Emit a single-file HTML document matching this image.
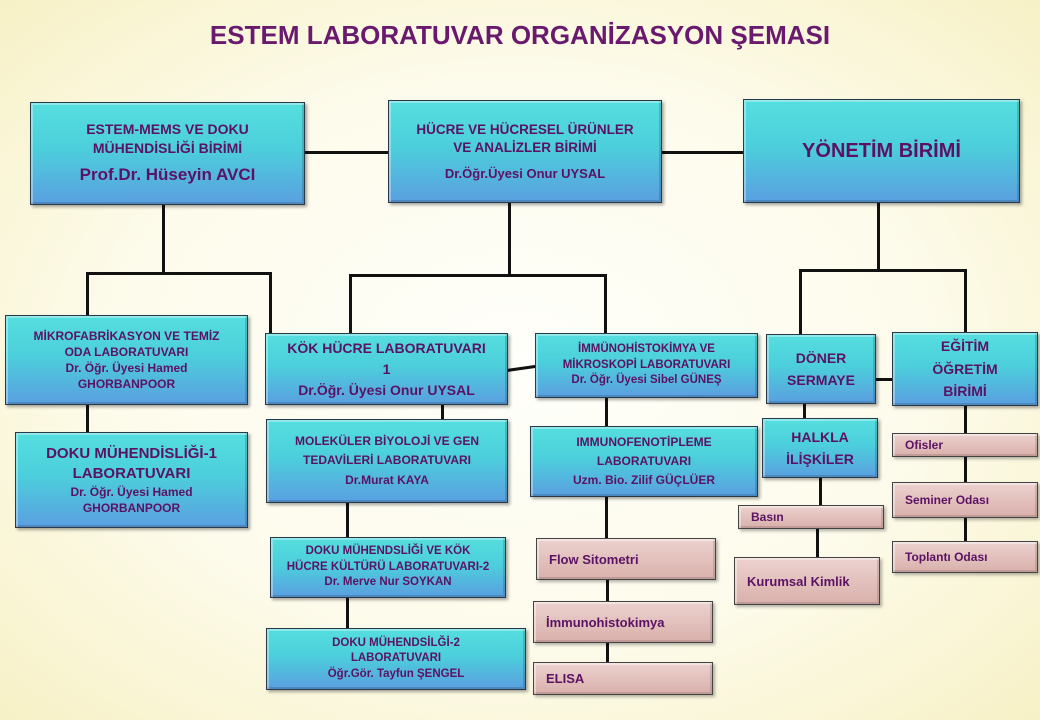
<!DOCTYPE html>
<html><head><meta charset="utf-8"><style>
body{margin:0;width:1040px;height:720px;overflow:hidden;font-family:"Liberation Sans",sans-serif;
background:radial-gradient(ellipse at 50% 50%,#fffffb 0%,#fdfbeb 55%,#f7f1c6 100%);position:relative}
.b{position:absolute;box-sizing:border-box;border:1.5px solid #2a3a4a;
background:linear-gradient(#55dede 0%,#4ccfdc 45%,#5a9fe0 100%);
box-shadow:inset 2px 2px 0 rgba(255,255,255,.35),inset -2px -2px 0 rgba(0,0,0,.15),2px 2px 3px rgba(0,0,0,.35);
color:#5c1264;font-weight:bold;text-align:center;display:flex;flex-direction:column;justify-content:center;align-items:center;line-height:1.35}
.p{position:absolute;box-sizing:border-box;border:1.5px solid #444;background:linear-gradient(#ecd2cf,#d9b0ab);
box-shadow:inset 2px 2px 0 rgba(255,255,255,.4),inset -2px -2px 0 rgba(0,0,0,.12),2px 2px 3px rgba(0,0,0,.3);
color:#5c1264;font-weight:bold;font-size:13px;display:flex;align-items:center;padding-left:12px}
.l{position:absolute;background:#111}
h1{position:absolute;top:20px;left:0;width:1040px;margin:0;text-align:center;font-size:26px;color:#6a1a6e;font-weight:bold}
</style></head><body>
<h1>ESTEM LABORATUVAR ORGANİZASYON ŞEMASI</h1>
<div class="l" style="left:305px;top:151px;width:84px;height:3px"></div>
<div class="l" style="left:662px;top:151px;width:82px;height:3px"></div>
<div class="l" style="left:162px;top:205px;width:3px;height:70px"></div>
<div class="l" style="left:86px;top:272px;width:185px;height:3px"></div>
<div class="l" style="left:86px;top:272px;width:3px;height:44px"></div>
<div class="l" style="left:269px;top:272px;width:3px;height:62px"></div>
<div class="l" style="left:508px;top:203px;width:3px;height:73px"></div>
<div class="l" style="left:349px;top:274px;width:258px;height:3px"></div>
<div class="l" style="left:349px;top:274px;width:3px;height:60px"></div>
<div class="l" style="left:604px;top:274px;width:3px;height:60px"></div>
<div class="l" style="left:877px;top:203px;width:3px;height:68px"></div>
<div class="l" style="left:799px;top:269px;width:168px;height:3px"></div>
<div class="l" style="left:799px;top:269px;width:3px;height:66px"></div>
<div class="l" style="left:964px;top:269px;width:3px;height:64px"></div>
<div class="l" style="left:506px;top:367px;width:30px;height:3px;transform:rotate(-8deg)"></div>
<div class="l" style="left:876px;top:378px;width:17px;height:3px"></div>
<div class="l" style="left:605px;top:398px;width:3px;height:140px"></div>
<div class="l" style="left:606px;top:580px;width:3px;height:84px"></div>
<div class="l" style="left:803px;top:404px;width:3px;height:15px"></div>
<div class="l" style="left:819px;top:478px;width:3px;height:28px"></div>
<div class="l" style="left:816px;top:529px;width:3px;height:29px"></div>
<div class="l" style="left:964px;top:406px;width:3px;height:136px"></div>
<div class="l" style="left:86px;top:405px;width:3px;height:28px"></div>
<div class="l" style="left:441px;top:405px;width:3px;height:15px"></div>
<div class="l" style="left:346px;top:503px;width:3px;height:126px"></div>
<div class="b" style="left:30px;top:102px;width:275px;height:103px;font-size:14px">ESTEM-MEMS VE DOKU<br>MÜHENDİSLİĞİ BİRİMİ<span style="font-size:17px;margin-top:6px">Prof.Dr. Hüseyin AVCI</span></div>
<div class="b" style="left:388px;top:100px;width:274px;height:103px;font-size:13.5px">HÜCRE VE HÜCRESEL ÜRÜNLER<br>VE ANALİZLER BİRİMİ<span style="font-size:13px;margin-top:8px">Dr.Öğr.Üyesi Onur UYSAL</span></div>
<div class="b" style="left:743px;top:99px;width:277px;height:104px;font-size:20px">YÖNETİM BİRİMİ</div>
<div class="b" style="left:5px;top:315px;width:243px;height:90px;font-size:12px">MİKROFABRİKASYON VE TEMİZ<br>ODA LABORATUVARI<br>Dr. Öğr. Üyesi Hamed<br>GHORBANPOOR</div>
<div class="b" style="left:265px;top:333px;width:243px;height:72px;font-size:14px;line-height:1.5">KÖK HÜCRE LABORATUVARI<br>1<br>Dr.Öğr. Üyesi Onur UYSAL</div>
<div class="b" style="left:535px;top:333px;width:223px;height:65px;font-size:11.5px">İMMÜNOHİSTOKİMYA VE<br>MİKROSKOPİ LABORATUVARI<br>Dr. Öğr. Üyesi Sibel GÜNEŞ</div>
<div class="b" style="left:766px;top:334px;width:110px;height:70px;font-size:14px;line-height:1.6">DÖNER<br>SERMAYE</div>
<div class="b" style="left:892px;top:332px;width:146px;height:74px;font-size:14px;line-height:1.6">EĞİTİM<br>ÖĞRETİM<br>BİRİMİ</div>
<div class="b" style="left:15px;top:432px;width:233px;height:96px;font-size:12px"><span style="font-size:15px">DOKU MÜHENDİSLİĞİ-1<br>LABORATUVARI</span>Dr. Öğr. Üyesi Hamed<br>GHORBANPOOR</div>
<div class="b" style="left:266px;top:419px;width:242px;height:84px;font-size:12px;line-height:1.6">MOLEKÜLER BİYOLOJİ VE GEN<br>TEDAVİLERİ LABORATUVARI<br>Dr.Murat KAYA</div>
<div class="b" style="left:530px;top:426px;width:228px;height:71px;font-size:12px;line-height:1.6">IMMUNOFENOTİPLEME<br>LABORATUVARI<br>Uzm. Bio. Zilif GÜÇLÜER</div>
<div class="b" style="left:762px;top:418px;width:116px;height:60px;font-size:14px;line-height:1.6">HALKLA<br>İLİŞKİLER</div>
<div class="b" style="left:270px;top:537px;width:236px;height:61px;font-size:11.5px">DOKU MÜHENDSLİĞİ VE KÖK<br>HÜCRE KÜLTÜRÜ LABORATUVARI-2<br>Dr. Merve Nur SOYKAN</div>
<div class="b" style="left:266px;top:628px;width:260px;height:62px;font-size:11.5px">DOKU MÜHENDSİLĞİ-2<br>LABORATUVARI<br>Öğr.Gör. Tayfun ŞENGEL</div>
<div class="p" style="left:536px;top:538px;width:180px;height:42px">Flow Sitometri</div>
<div class="p" style="left:533px;top:601px;width:180px;height:42px">İmmunohistokimya</div>
<div class="p" style="left:533px;top:662px;width:180px;height:33px">ELISA</div>
<div class="p" style="left:738px;top:505px;width:146px;height:24px;font-size:12px">Basın</div>
<div class="p" style="left:734px;top:557px;width:146px;height:48px">Kurumsal Kimlik</div>
<div class="p" style="left:892px;top:433px;width:146px;height:24px;font-size:12px">Ofisler</div>
<div class="p" style="left:892px;top:482px;width:146px;height:36px;font-size:12px">Seminer Odası</div>
<div class="p" style="left:892px;top:541px;width:146px;height:32px;font-size:12px">Toplantı Odası</div>
</body></html>
